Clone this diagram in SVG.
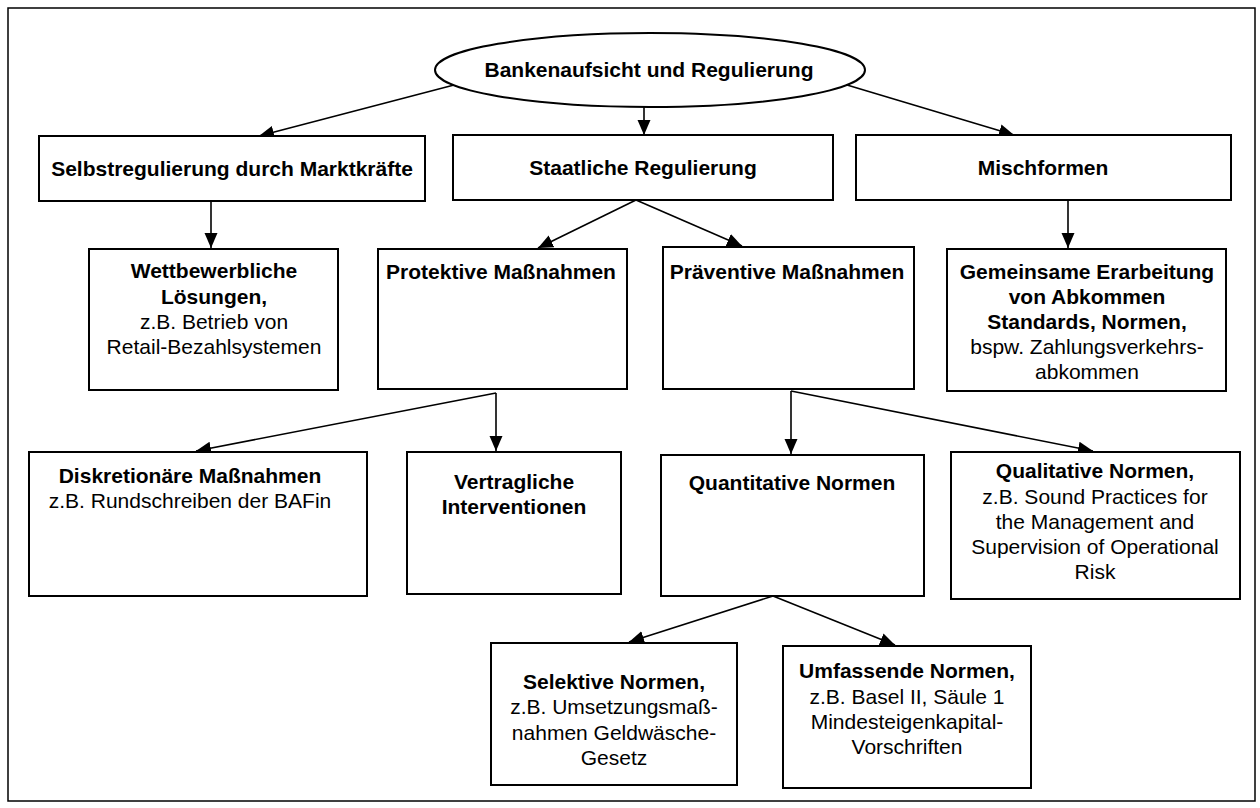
<svg xmlns="http://www.w3.org/2000/svg" width="1260" height="808" viewBox="0 0 1260 808">
  <style>
    .box { fill: #fff; stroke: #000; stroke-width: 2; }
    .edge { fill: none; stroke: #000; stroke-width: 1.6; marker-end: url(#arrow); }
    text { font-family: "Liberation Sans", Arial, sans-serif; font-size: 21px; fill: #000; text-anchor: middle; }
    .b { font-weight: bold; }
  </style>
  <defs>
    <!-- filled triangular arrowhead, tip placed on the line end -->
    <marker id="arrow" markerUnits="userSpaceOnUse" markerWidth="16" markerHeight="14" refX="15" refY="7" orient="auto">
      <path d="M0,0.5 L15,7 L0,13.5 z" fill="#000"/>
    </marker>
  </defs>

  <rect x="0" y="0" width="1260" height="808" fill="#fff"/>
  <!-- outer frame -->
  <rect x="8" y="8" width="1247" height="793" fill="none" stroke="#000" stroke-width="1.5"/>

  <!-- connectors -->
  <g id="connectors">
    <line class="edge" x1="454" y1="85" x2="259" y2="136"/>
    <line class="edge" x1="644" y1="107" x2="644" y2="135"/>
    <line class="edge" x1="847" y1="85" x2="1014" y2="135"/>
    <line class="edge" x1="211" y1="201" x2="211" y2="248"/>
    <line class="edge" x1="636" y1="200" x2="538" y2="248"/>
    <line class="edge" x1="636" y1="200" x2="742" y2="246"/>
    <line class="edge" x1="1068" y1="200" x2="1068" y2="248"/>
    <line class="edge" x1="496" y1="393" x2="196" y2="451"/>
    <line class="edge" x1="496" y1="393" x2="496" y2="451"/>
    <line class="edge" x1="791" y1="391" x2="791" y2="454"/>
    <line class="edge" x1="791" y1="391" x2="1093" y2="451"/>
    <line class="edge" x1="773" y1="596" x2="629" y2="642"/>
    <line class="edge" x1="773" y1="596" x2="895" y2="645"/>
  </g>

  <g id="root">
    <ellipse cx="650" cy="70" rx="215" ry="37" fill="#fff" stroke="#000" stroke-width="2"/>
    <text class="b" x="649" y="77">Bankenaufsicht und Regulierung</text>
  </g>

  <g id="selbstregulierung">
    <rect class="box" x="39" y="136" width="386" height="65"/>
    <text class="b" x="232" y="176">Selbstregulierung durch Marktkräfte</text>
  </g>

  <g id="staatlich">
    <rect class="box" x="453" y="135" width="380" height="65"/>
    <text class="b" x="643" y="175">Staatliche Regulierung</text>
  </g>

  <g id="mischformen">
    <rect class="box" x="856" y="135" width="375" height="65"/>
    <text class="b" x="1043" y="175">Mischformen</text>
  </g>

  <g id="wettbewerb">
    <rect class="box" x="89" y="249" width="249" height="141"/>
    <text class="b" x="214" y="278">Wettbewerbliche</text>
    <text class="b" x="214" y="304">Lösungen,</text>
    <text x="214" y="329">z.B. Betrieb von</text>
    <text x="214" y="354">Retail-Bezahlsystemen</text>
  </g>

  <g id="protektiv">
    <rect class="box" x="378" y="249" width="249" height="140"/>
    <text class="b" x="501" y="279">Protektive Maßnahmen</text>
  </g>

  <g id="praeventiv">
    <rect class="box" x="663" y="247" width="251" height="142"/>
    <text class="b" x="787" y="279">Präventive Maßnahmen</text>
  </g>

  <g id="gemeinsam">
    <rect class="box" x="947" y="249" width="279" height="142"/>
    <text class="b" x="1087" y="279">Gemeinsame Erarbeitung</text>
    <text class="b" x="1087" y="304">von Abkommen</text>
    <text class="b" x="1087" y="329">Standards, Normen,</text>
    <text x="1087" y="354">bspw. Zahlungsverkehrs-</text>
    <text x="1087" y="379">abkommen</text>
  </g>

  <g id="diskretionaer">
    <rect class="box" x="29" y="452" width="338" height="144"/>
    <text class="b" x="190" y="483">Diskretionäre Maßnahmen</text>
    <text x="190" y="508">z.B. Rundschreiben der BAFin</text>
  </g>

  <g id="vertraglich">
    <rect class="box" x="407" y="452" width="214" height="142"/>
    <text class="b" x="514" y="489">Vertragliche</text>
    <text class="b" x="514" y="514">Interventionen</text>
  </g>

  <g id="quantitativ">
    <rect class="box" x="661" y="455" width="263" height="141"/>
    <text class="b" x="792" y="490">Quantitative Normen</text>
  </g>

  <g id="qualitativ">
    <rect class="box" x="951" y="452" width="289" height="147"/>
    <text class="b" x="1095" y="478">Qualitative Normen,</text>
    <text x="1095" y="504">z.B. Sound Practices for</text>
    <text x="1095" y="529">the Management and</text>
    <text x="1095" y="554">Supervision of Operational</text>
    <text x="1095" y="579">Risk</text>
  </g>

  <g id="selektiv">
    <rect class="box" x="491" y="643" width="246" height="142"/>
    <text class="b" x="614" y="689">Selektive Normen,</text>
    <text x="614" y="714">z.B. Umsetzungsmaß-</text>
    <text x="614" y="740">nahmen Geldwäsche-</text>
    <text x="614" y="765">Gesetz</text>
  </g>

  <g id="umfassend">
    <rect class="box" x="783" y="646" width="248" height="142"/>
    <text class="b" x="907" y="678">Umfassende Normen,</text>
    <text x="907" y="704">z.B. Basel II, Säule 1</text>
    <text x="907" y="729">Mindesteigenkapital-</text>
    <text x="907" y="754">Vorschriften</text>
  </g>
</svg>
